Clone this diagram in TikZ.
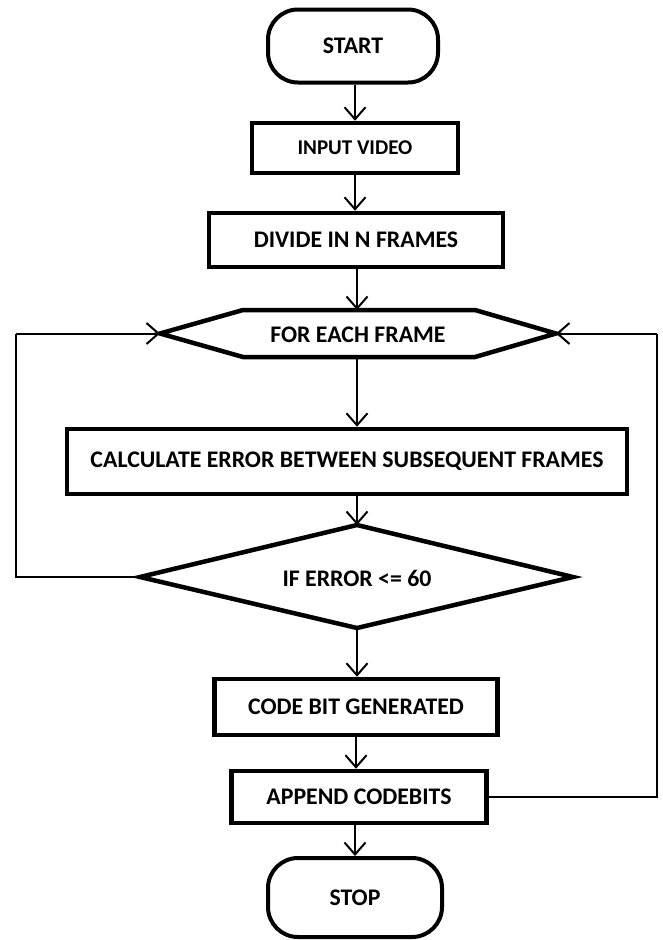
\documentclass[tikz,border=0pt]{standalone}
\usepackage{fontspec}
\setmainfont{Carlito}
\usetikzlibrary{arrows.meta}

\tikzset{
  flowtext/.style={font=\fontsize{23.8}{28}\bfseries\selectfont, text=black},
  smalltext/.style={font=\fontsize{21}{25}\bfseries\selectfont, text=black},
  procbox/.style={flowtext, draw=black, line width=4.5pt, rectangle, fill=white, inner sep=0pt},
  termbox/.style={procbox, line width=4pt, rounded corners=30pt},
  shapeline/.style={draw=black, line width=4.5pt, line join=miter},
  flowarrow/.style={draw=black, line width=2pt, -{Straight Barb[length=12pt,width=21pt]}},
  loopline/.style={draw=black, line width=2pt}
}

\begin{document}
\begin{tikzpicture}[x=1pt, y=-1pt]
  % page frame
  \useasboundingbox[fill=white] (0,0) rectangle (662,940);

  % terminals and process boxes
  \node[termbox, minimum width=170pt, minimum height=73pt] (start) at (353,46) {START};
  \node[procbox, smalltext, minimum width=206pt, minimum height=50pt] (input) at (355,148) {INPUT VIDEO};
  \node[procbox, minimum width=294pt, minimum height=54pt] (divide) at (356,240) {DIVIDE IN N FRAMES};

  % loop header (hexagon)
  \coordinate (hexL) at (160,333.5);
  \coordinate (hexR) at (556,333.5);
  \coordinate (hexT) at (357,310);
  \coordinate (hexB) at (357,357);
  \draw[shapeline] (hexL) -- (243,310) -- (475,310) -- (hexR) -- (475,357) -- (243,357) -- cycle;
  \node[flowtext] (loop) at (358,335) {FOR EACH FRAME};

  \node[procbox, minimum width=560pt, minimum height=65pt] (calc) at (347,461.5)
    {CALCULATE ERROR BETWEEN SUBSEQUENT FRAMES};

  % decision (diamond)
  \coordinate (decT) at (357,525);
  \coordinate (decL) at (140,577);
  \coordinate (decR) at (573,577);
  \coordinate (decB) at (357,628);
  \draw[shapeline] (decT) -- (decR) -- (decB) -- (decL) -- cycle;
  \node[flowtext] (test) at (357,578) {IF ERROR <= 60};

  \node[procbox, minimum width=283pt, minimum height=56pt] (code) at (356,707) {CODE BIT GENERATED};
  \node[procbox, minimum width=255pt, minimum height=52pt] (append) at (359,797) {APPEND CODEBITS};
  \node[termbox, minimum width=174pt, minimum height=79pt] (stop) at (355,897.5) {STOP};

  % main flow
  \draw[flowarrow] (start.south -| input.north) -- (input.north);
  \draw[flowarrow] (input.south) -- (input.south |- divide.north);
  \draw[flowarrow] (divide.south -| hexT) -- (hexT);
  \draw[flowarrow] (hexB) -- (calc.north -| hexB);
  \draw[flowarrow] (calc.south -| decT) -- (decT);
  \draw[flowarrow] (decB) -- (code.north -| decB);
  \draw[flowarrow] (code.south) -- (code.south |- append.north);
  \draw[flowarrow] (append.south -| stop.north) -- (stop.north);

  % loop back-edges
  \coordinate (lcorner) at (16,577);
  \coordinate (rcorner) at (657,797);
  \draw[loopline] (decL) -- (lcorner) -- (lcorner |- hexL);
  \draw[flowarrow] (lcorner |- hexL) -- (hexL);
  \draw[loopline] (append.east) -- (append.east -| rcorner) -- (rcorner |- hexR);
  \draw[flowarrow] (rcorner |- hexR) -- (hexR);
\end{tikzpicture}
\end{document}
